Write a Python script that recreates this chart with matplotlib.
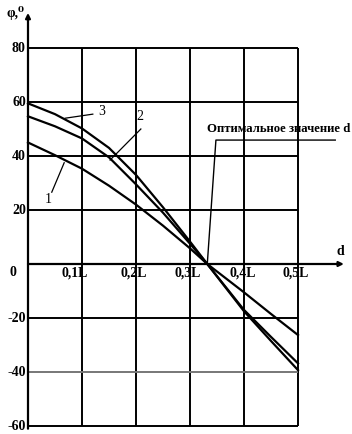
import matplotlib
matplotlib.use("Agg")
import matplotlib.pyplot as plt

# Data
d = [0.0, 0.05, 0.1, 0.15, 0.2, 0.25, 0.3, 0.332, 0.4, 0.45, 0.5]
phi1 = [45, 40.3, 35.3, 29, 22, 14.2, 5.8, 0, -10.5, -18.5, -26.3]
phi2 = [54.7, 51, 46.5, 39.5, 29.5, 19, 7.5, 0, -17, -27, -36.8]
phi3 = [59.5, 55.5, 50.2, 43, 33, 21, 8.3, 0, -17.5, -28.5, -39.3]
xticks = [0.1, 0.2, 0.3, 0.4, 0.5]
xlabels = ["0,1L", "0,2L", "0,3L", "0,4L", "0,5L"]
yticks = [80, 60, 40, 20, 0, -20, -40, -60]
ylabels = ["80", "60", "40", "20", "0", "-20", "-40", "-60"]
d_opt = 0.332

plt.rcParams['font.family'] = ['Liberation Serif', 'DejaVu Serif']
fig = plt.figure(figsize=(3.52, 4.34), dpi=100)
ax = fig.add_axes([0, 0, 1, 1])
ax.set_xlim(-28/540, 324/540)
ax.set_ylim(-170/2.7, 264/2.7)
ax.axis('off')

# grid
for t in [0.0] + xticks:
    ax.plot([t, t], [-60, 80], color='black', lw=1.4, solid_capstyle='butt', zorder=1)
for t in yticks:
    if t == 0:
        continue
    c = '#777777' if t == -40 else 'black'
    ax.plot([0, 0.5], [t, t], color=c, lw=1.4, solid_capstyle='butt', zorder=1)

# axes arrows
ax.annotate('', xy=(0, 93), xytext=(0, -61),
            arrowprops=dict(arrowstyle='-|>', color='black', lw=1.6, mutation_scale=7, shrinkA=0, shrinkB=0))
ax.annotate('', xy=(0.585, 0), xytext=(0, 0),
            arrowprops=dict(arrowstyle='-|>', color='black', lw=1.6, mutation_scale=7, shrinkA=0, shrinkB=0))

# curves
for y in (phi1, phi2, phi3):
    ax.plot(d, y, color='black', lw=1.6, zorder=3, solid_joinstyle='round')

fs = 10
xoff = [-0.014, -0.005, -0.004, -0.003, -0.004]
for t, lab, o in zip(xticks, xlabels, xoff):
    ax.text(t + o, -3.3, lab, ha='center', va='center', fontsize=fs, fontweight='bold')
for t, lab in zip(yticks, ylabels):
    if t == 0:
        ax.text(-0.022, -3.3, lab, ha='right', va='center', fontsize=fs, fontweight='bold')
    else:
        ax.text(-0.004, t, lab, ha='right', va='center', fontsize=fs, fontweight='bold')

ax.text(-0.04, 93, 'φ,⁰', ha='left', va='center', fontsize=fs, fontweight='bold')
ax.text(0.578, 4.5, 'd', ha='center', va='center', fontsize=fs, fontweight='bold')

# curve labels with leader lines
ax.plot([0.069, 0.12], [54, 55.5], color='black', lw=0.9)
ax.text(0.137, 56.3, '3', ha='center', va='center', fontsize=fs)
ax.plot([0.209, 0.152], [50, 38.5], color='black', lw=0.9)
ax.text(0.208, 54.5, '2', ha='center', va='center', fontsize=fs)
ax.plot([0.044, 0.067], [26.6, 37.5], color='black', lw=0.9)
ax.text(0.037, 24, '1', ha='center', va='center', fontsize=fs)

# optimal value annotation
ax.plot([d_opt, 0.348, 0.569], [0, 45.9, 45.9], color='black', lw=1.0, zorder=2)
ax.text(0.331, 50, 'Оптимальное значение d', ha='left', va='center', fontsize=9.2, fontweight='bold')

fig.savefig('out.png', dpi=100)
